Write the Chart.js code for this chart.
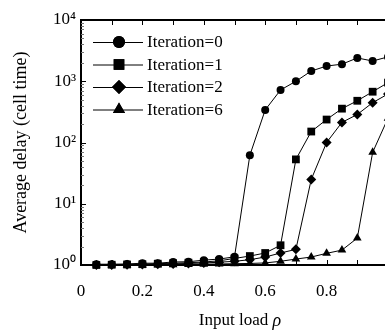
<!DOCTYPE html>
<html>
<head>
<meta charset="utf-8">
<script src="https://cdn.jsdelivr.net/npm/chart.js@4.4.0/dist/chart.umd.min.js"></script>
<style>
  html, body { margin: 0; padding: 0; background: #fff; overflow: hidden; }
  #wrap { width: 420px; height: 332px; }
</style>
</head>
<body>
<div id="wrap"><canvas id="chart" width="420" height="332"></canvas></div>
<script>
// input load (x) and average delay per iteration count (y, log scale)
const loads = [0.05, 0.1, 0.15, 0.2, 0.25, 0.3, 0.35, 0.4, 0.45, 0.5,
               0.55, 0.6, 0.65, 0.7, 0.75, 0.8, 0.85, 0.9, 0.95, 1.0];
const iter0 = [1.03, 1.03, 1.04, 1.07, 1.07, 1.12, 1.13, 1.2, 1.25, 1.36,
               62, 340, 720, 1000, 1470, 1770, 1900, 2400, 2140, 2500];
const iter1 = [1.0, 1.01, 1.02, 1.03, 1.05, 1.07, 1.09, 1.12, 1.17, 1.28,
               1.4, 1.57, 2.1, 53, 151, 237, 357, 480, 675, 950];
const iter2 = [1.0, 1.0, 1.01, 1.02, 1.03, 1.04, 1.06, 1.08, 1.11, 1.15,
               1.22, 1.35, 1.57, 1.8, 25, 100, 213, 287, 447, 620];
const iter6 = [1.0, 1.0, 1.0, 1.0, 1.01, 1.01, 1.02, 1.03, 1.04, 1.05,
               1.06, 1.08, 1.15, 1.25, 1.35, 1.55, 1.75, 2.75, 69, 250];

const seriesNames = ["Iteration=0", "Iteration=1", "Iteration=2", "Iteration=6"];
const seriesMarkers = ["circle", "rect", "rectRot", "triangle"];
const markerSizes = [4, 5.5, 5, 5];
const legendSizes = [6, 7.5, 7, 7];

const yTicks = [1, 10, 100, 1000, 10000];
const yTickLabels = ["10\u2070", "10\u00b9", "10\u00b2", "10\u00b3", "10\u2074"];
const xTickValues = [0, 0.1, 0.2, 0.3, 0.4, 0.5, 0.6, 0.7, 0.8, 0.9, 1.0];
const xTickLabels = { 0: "0", 2: "0.2", 4: "0.4", 6: "0.6", 8: "0.8", 10: "1" };
const xTitle = ["Input load ", "\u03c1"];

const FONT = "'Liberation Serif', 'Times New Roman', serif";

const seriesValues = [iter0, iter1, iter2, iter6];
const datasets = seriesValues.map((vals, i) => ({
  label: seriesNames[i],
  data: vals.map((v, j) => ({ x: loads[j], y: v })),
  borderColor: "#000",
  backgroundColor: "#000",
  borderWidth: 1,
  pointStyle: seriesMarkers[i],
  pointRadius: markerSizes[i],
  pointBorderWidth: 0,
  tension: 0,
  clip: false,
}));

// frame top line, inward tick marks, legend inside the plot, x title with italic rho
const decorations = {
  id: "decorations",
  afterDatasetsDraw(chart) {
    const { ctx, chartArea: a, scales } = chart;
    const x = scales.x, y = scales.y;
    ctx.save();
    ctx.strokeStyle = "#000";
    ctx.lineWidth = 2;
    ctx.beginPath();
    ctx.moveTo(a.left - 1, a.top);
    ctx.lineTo(a.right + 1, a.top);
    ctx.stroke();

    ctx.lineWidth = 1;
    ctx.beginPath();
    xTickValues.forEach((v) => {
      const px = Math.round(x.getPixelForValue(v)) + 0.5;
      ctx.moveTo(px, a.bottom);
      ctx.lineTo(px, a.bottom - 5);
      ctx.moveTo(px, a.top);
      ctx.lineTo(px, a.top + 5);
    });
    yTicks.forEach((v) => {
      const py = Math.round(y.getPixelForValue(v)) + 0.5;
      ctx.moveTo(a.left, py);
      ctx.lineTo(a.left + 5, py);
    });
    ctx.stroke();

    ctx.strokeStyle = "#777";
    ctx.beginPath();
    for (let d = 1; d < 10000; d *= 10) {
      for (let m = 2; m < 10; m++) {
        const py = Math.round(y.getPixelForValue(d * m)) + 0.5;
        ctx.moveTo(a.left, py);
        ctx.lineTo(a.left + 3, py);
      }
    }
    ctx.stroke();

    // legend
    ctx.font = "17px " + FONT;
    ctx.textBaseline = "middle";
    ctx.fillStyle = "#000";
    seriesNames.forEach((name, i) => {
      const ly = a.top + 22 + i * 22.5;
      ctx.strokeStyle = "#000";
      ctx.lineWidth = 1;
      ctx.beginPath();
      ctx.moveTo(a.left + 12, ly + 0.5);
      ctx.lineTo(a.left + 62, ly + 0.5);
      ctx.stroke();
      Chart.helpers.drawPoint(ctx, { pointStyle: seriesMarkers[i], radius: legendSizes[i], borderWidth: 0 }, a.left + 38, ly);
      ctx.fillStyle = "#000";
      ctx.fill();
      ctx.fillText(name, a.left + 66, ly + 1);
    });

    // x axis title
    ctx.textBaseline = "middle";
    ctx.textAlign = "left";
    ctx.font = "17px " + FONT;
    const w1 = ctx.measureText(xTitle[0]).width;
    ctx.font = "italic 18px " + FONT;
    const w2 = ctx.measureText(xTitle[1]).width;
    const tx = 240 - (w1 + w2) / 2;
    ctx.font = "17px " + FONT;
    ctx.fillText(xTitle[0], tx, 321);
    ctx.font = "italic 18px " + FONT;
    ctx.fillText(xTitle[1], tx + w1, 321);
    ctx.restore();
  },
};

new Chart(document.getElementById("chart").getContext("2d"), {
  type: "line",
  data: { datasets },
  options: {
    responsive: false,
    animation: false,
    layout: { padding: { top: 20, right: 32, left: 0, bottom: 0 } },
    plugins: { legend: { display: false }, tooltip: { enabled: false } },
    scales: {
      x: {
        type: "linear",
        min: 0,
        max: 1,
        afterFit: (s) => { s.height = 67; },
        afterBuildTicks: (s) => { s.ticks = xTickValues.map((v) => ({ value: v })); },
        grid: { display: false, drawTicks: false },
        border: { display: true, color: "#000", width: 2 },
        ticks: {
          autoSkip: false,
          maxRotation: 0,
          padding: 16,
          color: "#000",
          font: { family: FONT, size: 17 },
          callback: (v, i) => xTickLabels[i] || "",
        },
        title: { display: false },
      },
      y: {
        type: "logarithmic",
        min: 1,
        max: 10000,
        afterFit: (s) => { s.width = 81; },
        afterBuildTicks: (s) => { s.ticks = yTicks.map((v) => ({ value: v })); },
        grid: { display: false, drawTicks: false },
        border: { display: true, color: "#000", width: 2 },
        ticks: {
          autoSkip: false,
          padding: 5,
          color: "#000",
          font: { family: FONT, size: 17 },
          callback: (v, i) => yTickLabels[i],
        },
        title: {
          display: true,
          text: "Average delay (cell time)",
          color: "#000",
          font: { family: FONT, size: 18 },
          padding: { top: 10, bottom: 0 },
        },
      },
    },
  },
  plugins: [decorations],
});
</script>
</body>
</html>
